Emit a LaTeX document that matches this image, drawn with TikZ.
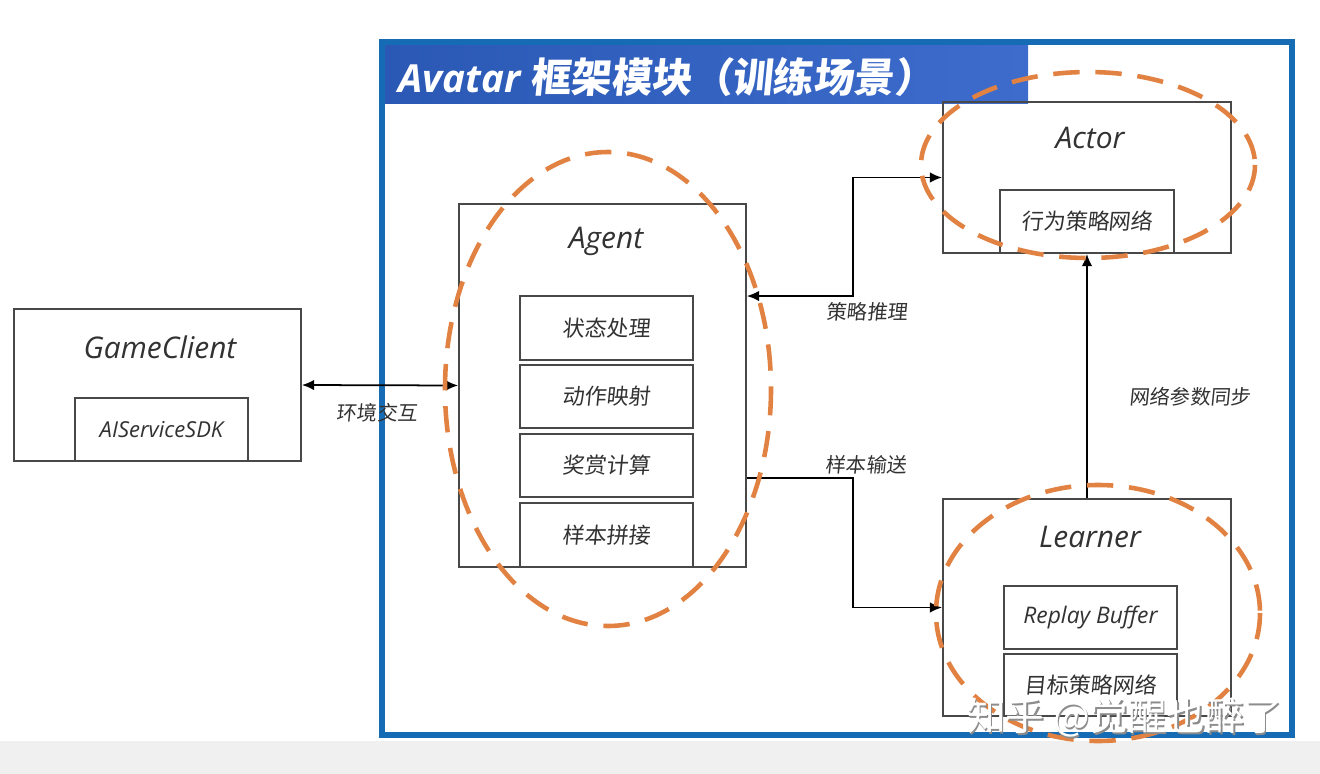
\documentclass[tikz,border=0pt]{standalone}
\usepackage{fontspec}
\setmainfont{Open Sans}
\newfontfamily\cjk[FakeSlant=0.1,BoldFont={Noto Sans CJK SC Bold}]{Noto Sans CJK SC}
\newfontfamily\cjkup{Noto Sans CJK SC}
\usetikzlibrary{arrows.meta, calc, positioning}

\definecolor{frameblue}{RGB}{22,108,180}
\definecolor{barblue}{RGB}{42,88,180}
\definecolor{barblueb}{RGB}{62,108,205}
\definecolor{ringorange}{RGB}{226,130,66}
\definecolor{boxgray}{RGB}{72,72,72}
\definecolor{txtgray}{RGB}{50,50,50}

\tikzset{
  box/.style={draw=boxgray, line width=1pt, minimum width=5.76cm, inner sep=0},
  subbox/.style={draw=boxgray, line width=1pt, minimum width=3.46cm, minimum height=1.26cm, inner sep=0,
    text=txtgray, font=\cjk\fontsize{12.5}{14}\selectfont},
  boxtitle/.style={text=txtgray, font=\itshape\fontsize{17}{20}\selectfont},
  flowlabel/.style={text=txtgray, font=\cjk\fontsize{11.5}{13}\selectfont},
  flow/.style={line width=1pt, black},
  ring/.style={ringorange, line width=2.6pt, dash pattern=on 15pt off 9pt},
}

\begin{document}
\begin{tikzpicture}[x=0.02cm, y=-0.02cm, >={Latex[length=7pt,width=6pt]}]
  \useasboundingbox (0,0) rectangle (1320,774);
  \fill[white] (0,0) rectangle (1320,774);
  \fill[gray!12] (0,741) rectangle (1320,774);

  % frame of the module
  \shade[left color=barblue, right color=barblueb] (382,42) rectangle (1028,103);
  \draw[frameblue, line width=3pt] (382,42) rectangle (1292,735);
  \node [anchor=west, text=white, inner sep=0] (title) at (398,77)
    {\bfseries\itshape\fontsize{22}{24}\selectfont Avatar \cjk\fontsize{23}{25}\selectfont 框架模块（训练场景）};

  % game client
  \node [box, minimum width=5.74cm, minimum height=3.04cm] (client) at (157.5,385) {};
  \node [boxtitle] (clienttitle) at (160,347) {GameClient};
  \node [subbox, font=\itshape\fontsize{12.5}{14}\selectfont] (sdk) at (161.5,429.5) {AIServiceSDK};

  % agent
  \node [box, minimum width=5.74cm, minimum height=7.26cm] (agent) at (602.5,385.5) {};
  \node [boxtitle] (agenttitle) at (606,241) {Agent};
  \node [subbox, minimum height=1.28cm] (state) at (606.5,328) {状态处理};
  \node [subbox] (action) at (606.5,396.5) {动作映射};
  \node [subbox] (reward) at (606.5,465.5) {奖赏计算};
  \node [subbox, minimum height=1.28cm] (sample) at (606.5,535) {样本拼接};

  % actor
  \node [box, minimum height=3.02cm] (actor) at (1087,177.5) {};
  \node [boxtitle] (actortitle) at (1090,138) {Actor};
  \node [subbox, minimum width=3.48cm] (policy) at (1087,221.5) {行为策略网络};

  % learner
  \node [box, minimum height=4.34cm] (learner) at (1087,607.5) {};
  \node [boxtitle] (learnertitle) at (1090,537) {Learner};
  \node [subbox, font=\itshape\fontsize{13}{15}\selectfont] (replay) at (1090.5,617.5) {Replay Buffer};
  \node [subbox, minimum height=1.24cm] (target) at (1090.5,685) {目标策略网络};

  % connectors
  \draw [flow, <->] (client.east) -- (agent.west);
  \draw [flow, <->] ([yshift=1.79cm]agent.east) -- ++(106,0) |- (actor.west);
  \draw [flow, ->] ([yshift=-1.85cm]agent.east) -- ++(106,0) |- (learner.west);
  \draw [flow, ->] (learner.north) -- (actor.south);

  \node [flowlabel] (envlabel) at (377,413) {环境交互};
  \node [flowlabel] (inferlabel) at (867,312) {策略推理};
  \node [flowlabel] (sendlabel) at (866,465) {样本输送};
  \node [flowlabel] (synclabel) at (1190,397) {网络参数同步};

  % orange rings
  \draw [ring] (608,389) ellipse [x radius=163, y radius=237];
  \draw [ring] (1088,165) ellipse [x radius=167, y radius=93];
  \draw [ring] (1098,613) ellipse [x radius=162, y radius=128];

  % watermark
  \node [text=black!45, font=\cjkup\fontsize{22}{24}\selectfont] (wmshade) at (1126.5,719.5) {知乎 @觉醒也醉了};
  \node [text=white, font=\cjkup\fontsize{22}{24}\selectfont] (wm) at (1125,718) {知乎 @觉醒也醉了};
\end{tikzpicture}
\end{document}
